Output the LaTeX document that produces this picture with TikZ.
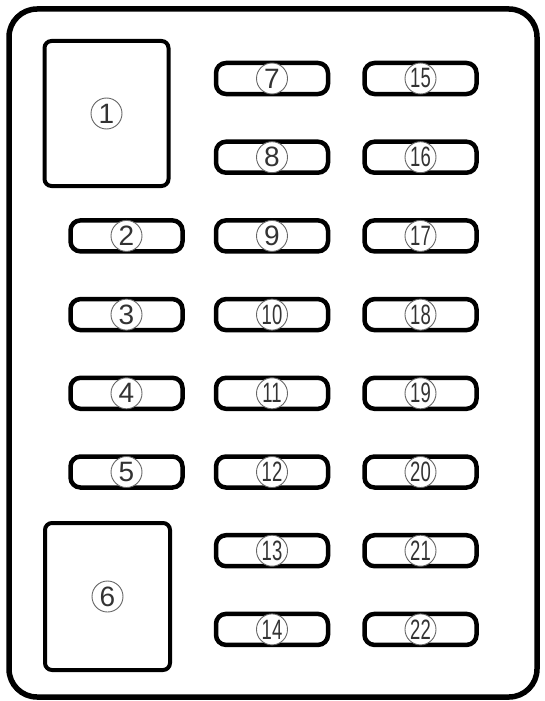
\documentclass[tikz,border=0pt]{standalone}
\usepackage{fontspec}
\setmainfont{Liberation Sans}
\usepackage{tikz}

\newcommand{\fusenum}[1]{\ifnum#1>9 \scalebox{0.66}[1]{#1}\else #1\fi}

\begin{document}
\begin{tikzpicture}[
		x=1pt, y=-1pt,
		fuse/.style={draw, line width=4.5pt, rounded corners=10pt, minimum width=112pt, minimum height=31pt},
		relay/.style={draw, line width=4pt, rounded corners=7pt, minimum width=124pt, minimum height=145pt},
		num/.style={circle, draw=black!60, line width=0.9pt, fill=white, text=black!80, minimum size=31pt, inner sep=0pt, font=\fontsize{28}{28}\selectfont}
	]
  \useasboundingbox (0,0) rectangle (545,701);
  \draw [line width=5.5pt, rounded corners=28pt] (9,9) rectangle (537,697);

  \node (r1) [relay] at (106.5, 113.5) {};
  \node (n1) [num] at (r1) {1};
  \node (r6) [relay, minimum width=125pt, minimum height=147pt] at (107.5, 596.5) {};
  \node (n6) [num] at (r6) {6};

  \foreach \r in {2,...,5} {
    \node (f\r) [fuse] at (126.5, {78.5+78.7*\r}) {};
    \node (n\r) [num] at (f\r) {\r};
  }
  \foreach \r in {0,...,7} {
    \pgfmathtruncatemacro{\a}{\r+7}
    \pgfmathtruncatemacro{\b}{\r+15}
    \node (f\a) [fuse] at (272, {78.5+78.7*\r}) {};
    \node (n\a) [num] at (f\a) {\fusenum{\a}};
    \node (f\b) [fuse] at (420.5, {78.5+78.7*\r}) {};
    \node (n\b) [num] at (f\b) {\fusenum{\b}};
  }
\end{tikzpicture}
\end{document}
